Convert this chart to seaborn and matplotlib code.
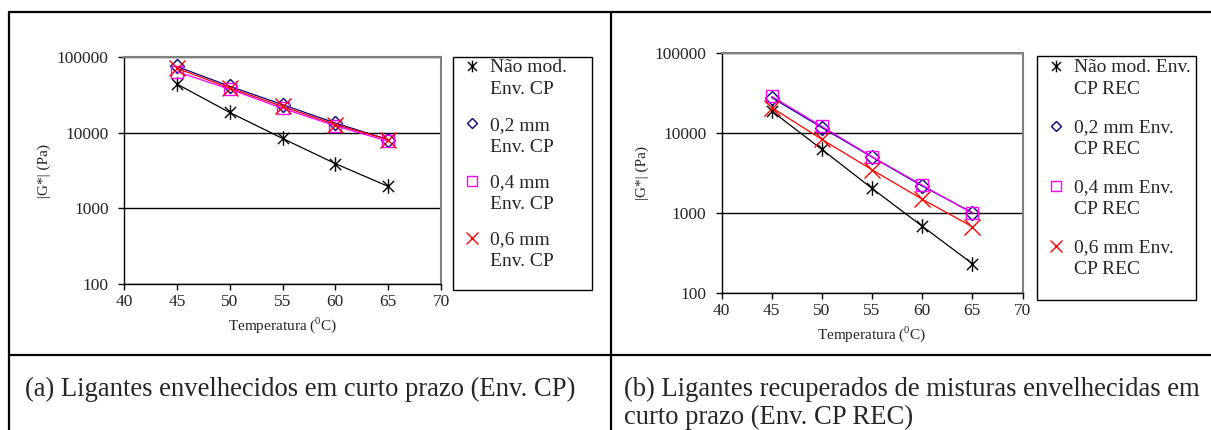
import numpy as np
import pandas as pd
import matplotlib
matplotlib.use("Agg")
import matplotlib.pyplot as plt
import seaborn as sns
from matplotlib.lines import Line2D
from matplotlib.path import Path
from matplotlib.legend_handler import HandlerLine2D
from matplotlib.ticker import FixedLocator, NullLocator

# --- data ---
temps = [45, 50, 55, 60, 65]

# (a) short-term aged binders
a_nao_mod = [44000, 18500, 8400, 3900, 1950]
a_02mm = [75000, 41000, 23500, 13400, 8100]
a_04mm = [64000, 37500, 21000, 12300, 7700]
a_06mm = [71000, 39000, 22200, 12800, 8100]
a_labels = ["Não mod.\nEnv. CP", "0,2 mm\nEnv. CP", "0,4 mm\nEnv. CP", "0,6 mm\nEnv. CP"]

# (b) binders recovered from short-term aged mixtures
b_nao_mod = [19000, 6300, 2050, 690, 235]
b_02mm = [28000, 11800, 5050, 2200, 1020]
b_04mm = [29000, 12200, 5100, 2250, 1000]
b_06mm = [21000, 8400, 3500, 1500, 680]
b_labels = ["Não mod. Env.\nCP REC", "0,2 mm Env.\nCP REC", "0,4 mm Env.\nCP REC", "0,6 mm Env.\nCP REC"]

x_ticks = [40, 45, 50, 55, 60, 65, 70]
y_ticks = [100, 1000, 10000, 100000]
y_ticklabels = ["100", "1000", "10000", "100000"]

caption_a = "(a) Ligantes envelhecidos em curto prazo (Env. CP)"
caption_b = ["(b) Ligantes recuperados de misturas envelhecidas em", "curto prazo (Env. CP REC)"]

# excel-like "star" marker: an X plus a vertical bar
star = Path([(-1, -1), (1, 1), (-1, 1), (1, -1), (0, -1.3), (0, 1.3)],
            [Path.MOVETO, Path.LINETO, Path.MOVETO, Path.LINETO, Path.MOVETO, Path.LINETO])

styles = [
    dict(color="black", marker=star, ms=10.5),
    dict(color="#000080", marker="D", ms=7),
    dict(color="#FF00FF", marker="s", ms=9),
    dict(color="#FF0000", marker="x", ms=11),
]

sns.set_style("white")
plt.rcParams["font.family"] = ["Liberation Serif", "DejaVu Serif"]
plt.rcParams["mathtext.fontset"] = "custom"
plt.rcParams["mathtext.rm"] = "Liberation Serif"


class FirstLineHandler(HandlerLine2D):
    """Put the legend marker on the first line of a two-line label."""
    def __init__(self, dy, **kw):
        super().__init__(**kw)
        self.dy = dy

    def create_artists(self, legend, orig_handle, xdescent, ydescent, width, height, fontsize, trans):
        return super().create_artists(legend, orig_handle, xdescent, ydescent - 2 * self.dy,
                                      width, height, fontsize, trans)


def draw_panel(ax, series):
    for vals, st in zip(series, styles):
        df = pd.DataFrame({"T": temps, "G": vals})
        sns.lineplot(data=df, x="T", y="G", ax=ax, color=st["color"], marker=st["marker"],
                     markersize=st["ms"], markeredgecolor=st["color"], markerfacecolor="none",
                     markeredgewidth=1.0, linewidth=0.9)
    ax.set_yscale("log")
    ax.set_xlim(40, 70)
    ax.set_ylim(100, 100000)
    ax.xaxis.set_major_locator(FixedLocator(x_ticks))
    ax.yaxis.set_major_locator(FixedLocator(y_ticks))
    ax.yaxis.set_minor_locator(NullLocator())
    ax.set_yticklabels(y_ticklabels)
    ax.tick_params(axis="both", direction="out", length=4, width=1, color="black",
                   labelsize=12.5, pad=3, left=True, bottom=True)
    ax.tick_params(axis="y", pad=7)
    ax.yaxis.grid(True, color="black", linewidth=1)
    ax.xaxis.grid(False)
    ax.set_axisbelow(True)
    for s in ["left", "bottom"]:
        ax.spines[s].set_color("black")
        ax.spines[s].set_linewidth(1)
    for s in ["top", "right"]:
        ax.spines[s].set_color("#808080")
        ax.spines[s].set_linewidth(1.5)
    ax.set_xlabel("Temperatura ($^{\\mathrm{0}}$C)", fontsize=11, labelpad=4)
    ax.set_ylabel("|G*| (Pa)", fontsize=11, labelpad=4)

    return [Line2D([], [], linestyle="none", color=st["color"], marker=st["marker"],
                   markersize=st["ms"] * 0.8, markeredgecolor=st["color"],
                   markerfacecolor="none", markeredgewidth=1.0) for st in styles]


fig = plt.figure(figsize=(12.11, 4.30), dpi=100)
W, H = 1211.0, 430.0

ax_a = fig.add_axes([124 / W, 1 - 284 / H, 317 / W, 227 / H])
ax_b = fig.add_axes([721.5 / W, 1 - 293.3 / H, 301 / W, 240 / H])

fs = 14
for ax, series, labels, box, anchor, lspace in [
    (ax_a, [a_nao_mod, a_02mm, a_04mm, a_06mm], a_labels, (453, 57, 592, 290), (463, 59.5), 0.95),
    (ax_b, [b_nao_mod, b_02mm, b_04mm, b_06mm], b_labels, (1037, 56, 1196, 300), (1047, 59.5), 1.08),
]:
    handles = draw_panel(ax, series)
    hmap = {h: FirstLineHandler(dy=9.0) for h in handles}
    leg = ax.legend(handles, labels, loc="upper left",
                    bbox_to_anchor=(anchor[0] / W, 1 - anchor[1] / H),
                    bbox_transform=fig.transFigure, frameon=False, fontsize=fs, borderpad=0,
                    borderaxespad=0, handlelength=0.93, handletextpad=0.45, labelspacing=lspace,
                    handler_map=hmap)
    for t in leg.get_texts():
        t.set_linespacing(1.37)
    x0, y0, x1, y1 = box
    fig.patches.append(plt.Rectangle((x0 / W, 1 - y1 / H), (x1 - x0) / W, (y1 - y0) / H,
                                     transform=fig.transFigure, fill=False,
                                     edgecolor="black", linewidth=1))

# table borders around the two figures
lw = 1.6
fig.add_artist(Line2D([8.5 / W, 1.0], [1 - 12.3 / H] * 2, color="black", lw=lw))
fig.add_artist(Line2D([8.5 / W, 1.0], [1 - 355 / H] * 2, color="black", lw=lw))
fig.add_artist(Line2D([8.5 / W] * 2, [0, 1 - 12.3 / H], color="black", lw=lw))
fig.add_artist(Line2D([610.5 / W] * 2, [0, 1 - 12.3 / H], color="black", lw=lw))

fig.text(25 / W, 1 - 396 / H, caption_a, fontsize=19.2, va="baseline", ha="left")
fig.text(624.5 / W, 1 - 396 / H, caption_b[0], fontsize=19.2, va="baseline", ha="left")
fig.text(624.5 / W, 1 - 424 / H, caption_b[1], fontsize=19.2, va="baseline", ha="left")

fig.savefig("out.png", dpi=100, facecolor="white")
